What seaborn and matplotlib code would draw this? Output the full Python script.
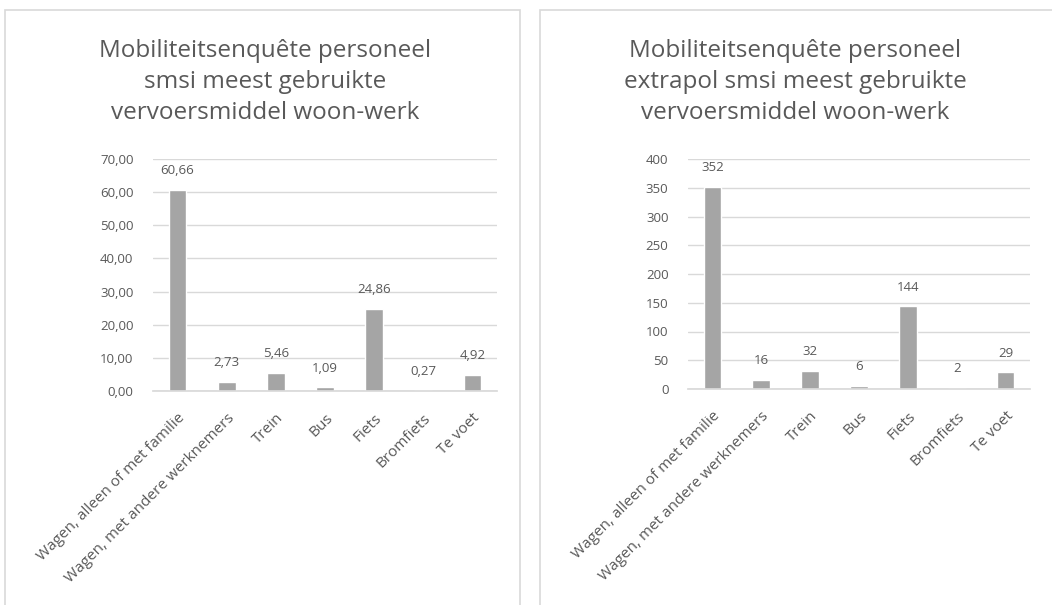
import matplotlib
matplotlib.use("Agg")
import matplotlib.pyplot as plt
import seaborn as sns
import pandas as pd
from matplotlib.patches import Rectangle

# ---- data ----
categories = ["Wagen, alleen of met familie", "Wagen, met andere werknemers",
              "Trein", "Bus", "Fiets", "Bromfiets", "Te voet"]
smsi_pct = [60.66, 2.73, 5.46, 1.09, 24.86, 0.27, 4.92]
extrapol_counts = [352, 16, 32, 6, 144, 2, 29]

title_left = "Mobiliteitsenquête personeel\nsmsi meest gebruikte\nvervoersmiddel woon-werk"
title_right = "Mobiliteitsenquête personeel\nextrapol smsi meest gebruikte\nvervoersmiddel woon-werk"

sns.set_theme(style="white")
plt.rcParams['font.family'] = ['Open Sans', 'DejaVu Sans']

TXT = "#595959"
BAR = "#a5a5a5"
GRID = "#d9d9d9"

fig = plt.figure(figsize=(10.52, 6.05), dpi=100)
fig.patch.set_facecolor("white")

# panel frames
for x0, w in [(5, 515), (540, 520)]:
    fig.patches.append(Rectangle((x0 / 1052, -0.01), w / 1052, (605 - 10) / 605 + 0.01,
                                 transform=fig.transFigure, fill=False,
                                 edgecolor=GRID, linewidth=1.2))

fig.text(265 / 1052, 1 - 82 / 605, title_left, ha="center", va="center",
         fontsize=17.5, color=TXT, linespacing=1.38)
fig.text(795 / 1052, 1 - 82 / 605, title_right, ha="center", va="center",
         fontsize=17.5, color=TXT, linespacing=1.38)


def draw(ax, values, ymax, step, fmt):
    df = pd.DataFrame({"cat": categories, "val": values})
    sns.barplot(data=df, x="cat", y="val", color=BAR, width=0.36, ax=ax,
                saturation=1)
    ax.set_ylim(0, ymax)
    ticks = list(range(0, ymax + 1, step))
    ax.set_yticks(ticks)
    ax.set_yticklabels([fmt(t) for t in ticks], fontsize=9.5, color=TXT)
    ax.grid(axis="y", color=GRID, linewidth=1)
    ax.set_axisbelow(True)
    for s in ["top", "right", "left"]:
        ax.spines[s].set_visible(False)
    ax.spines["bottom"].set_color(GRID)
    ax.tick_params(axis="y", length=0, pad=14)
    ax.tick_params(axis="x", length=0, pad=14)
    ax.set_xlabel("")
    ax.set_ylabel("")
    plt.setp(ax.get_xticklabels(), rotation=45, ha="right", rotation_mode="anchor",
             fontsize=11, color=TXT)
    for i, v in enumerate(values):
        ax.annotate(fmt(v), (i, v), xytext=(0, 9), textcoords="offset points",
                    ha="center", va="bottom", fontsize=9.5, color=TXT)


ax1 = fig.add_axes([153 / 1052, 214 / 605, 344 / 1052, 232 / 605])
draw(ax1, smsi_pct, 70, 10, lambda v: f"{v:.2f}".replace(".", ","))

ax2 = fig.add_axes([688 / 1052, 216 / 605, 342 / 1052, 230 / 605])
draw(ax2, extrapol_counts, 400, 50, lambda v: f"{v:.0f}")

fig.savefig("out.png", dpi=100, facecolor="white")
